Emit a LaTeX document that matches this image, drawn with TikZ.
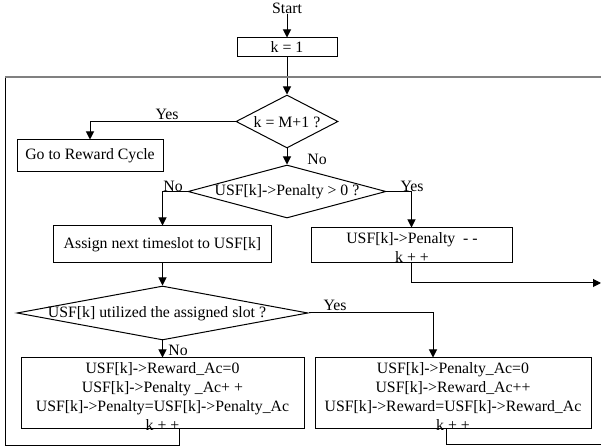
\documentclass[tikz,border=0pt]{standalone}
\usepackage{fontspec}
\setmainfont{Liberation Serif}
\usetikzlibrary{shapes.geometric,arrows.meta,calc}
\begin{document}
\begin{tikzpicture}[x=0.5pt,y=-0.5pt,
  font=\fontsize{7.9}{9.5}\selectfont,
  line width=0.5pt,
  box/.style={draw, rectangle, inner sep=0pt, align=center},
  dia/.style={draw, diamond, inner sep=0pt},
  arr/.style={-{Triangle[length=4pt,width=4pt]}},
  lbl/.style={inner sep=0pt, align=center},
  frameline/.style={draw=gray, line width=1pt},
]
\useasboundingbox (0,0) rectangle (601,448);

% nodes
\node[lbl] (start) at (287,8) {Start};
\node[box, minimum width=50pt, minimum height=9.5pt] (k1) at (287,47.5) {k = 1};
\node[dia, minimum width=51pt, minimum height=26.5pt] (d1) at (287,121.5) {};
\node[lbl] (d1t) at (287,122) {k = M+1 ?};
\node[box, minimum width=73pt, minimum height=16pt] (reward) at (90,156) {Go to Reward Cycle};
\node[dia, minimum width=99pt, minimum height=26.5pt] (d2) at (287,191.5) {};
\node[lbl] (d2t) at (287,192) {USF[k]->Penalty > 0 ?};
\node[box, minimum width=109pt, minimum height=18.5pt] (assign) at (162.5,244.5) {Assign next timeslot to USF[k]};
\node[box, minimum width=100.5pt, minimum height=17.5pt] (pen) at (411.5,245.5) {};
\node[lbl] (pent) at (412,247.5) {USF[k]->Penalty\ \ - -\\k + +};
\node[dia, minimum width=145.5pt, minimum height=27pt] (d3) at (162.5,313) {};
\node[lbl] (d3t) at (157,314) {USF[k] utilized the assigned slot ?};
\node[box, minimum width=141.5pt, minimum height=35.5pt] (lb) at (162.5,393.5) {};
\node[lbl] (lbt) at (162.5,396.5)
  {USF[k]->Reward\_Ac=0\\USF[k]->Penalty \_Ac+ +\\USF[k]->Penalty=USF[k]->Penalty\_Ac\\k + +};
\node[box, minimum width=138pt, minimum height=35.5pt] (rb) at (453,393.5) {};
\node[lbl] (rbt) at (453,396.5)
  {USF[k]->Penalty\_Ac=0\\USF[k]->Reward\_Ac++\\USF[k]->Reward=USF[k]->Reward\_Ac\\k + +};

% labels
\node[lbl] (y1) at (167,114) {Yes};
\node[lbl] (n1) at (317,159) {No};
\node[lbl] (n2) at (173,186) {No};
\node[lbl] (y2) at (412,186) {Yes};
\node[lbl] (y3) at (335,305) {Yes};
\node[lbl] (n3) at (178,350) {No};

% coordinates
\coordinate (exit1) at (601,283);
\coordinate (exit2) at (601,445);
\coordinate (loopBL) at (5,446);
\coordinate (loopTL) at (5,77);
\coordinate (loopTR) at (601,77);

% connectors
\draw[arr] (start) -- (k1);
\draw[arr] (k1) -- (d1);
\draw[arr] (d1.west) -| (reward);
\draw[arr] (d1) -- (d2);
\draw[arr] (d2.west) -| (assign);
\draw[arr] (d2.east) -| (pen);
\draw[arr] (pen.south) |- (exit1);
\draw[arr] (assign) -- (d3);
\draw[arr] (d3) -- (lb);
\draw[arr] (d3.east) -| ($(rb.north)+(-20,0)$);
\draw ($(lb.south)+(16.5,0)$) |- (loopBL) -- (loopTL);
\draw[frameline] (loopTL) -- (loopTR);
\draw ($(rb.south)+(-7,0)$) |- (exit2);
\end{tikzpicture}
\end{document}
